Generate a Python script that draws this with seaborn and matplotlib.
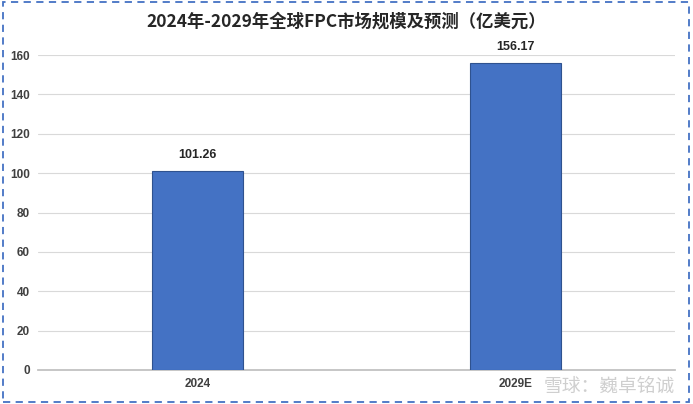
import matplotlib
matplotlib.use('Agg')
import matplotlib.pyplot as plt
import seaborn as sns
import pandas as pd
from matplotlib.patches import Rectangle

# datos
anios = ['2024', '2029E']
valores = [101.26, 156.17]
titulo = '2024年-2029年全球FPC市场规模及预测（亿美元）'
marca = '雪球：巍卓铭诚'

df = pd.DataFrame({'anio': anios, 'valor': valores})

sns.set_theme(style="white")
plt.rcParams['font.family'] = ['Liberation Sans', 'Noto Sans CJK SC', 'DejaVu Sans']

fig = plt.figure(figsize=(6.93, 4.04), dpi=100)
ax = fig.add_axes([38 / 693, 34 / 404, 637 / 693, 315 / 404])

sns.barplot(data=df, x='anio', y='valor', color='#4472C4', width=0.285,
            edgecolor='#2F528F', linewidth=0.8, saturation=1, ax=ax, zorder=3)

ax.set_xlim(-0.5, 1.5)
ax.set_ylim(0, 160)
ax.set_yticks(range(0, 161, 20))
ax.yaxis.grid(True, color='#D9D9D9', linewidth=0.8, zorder=0)
ax.set_xlabel('')
ax.set_ylabel('')
for lado in ['top', 'right', 'left']:
    ax.spines[lado].set_visible(False)
ax.spines['bottom'].set_color('#BFBFBF')
ax.tick_params(axis='both', length=0, labelsize=8.5, labelcolor='#404040', pad=6)
for lab in ax.get_xticklabels() + ax.get_yticklabels():
    lab.set_fontweight('bold')

for i, v in enumerate(valores):
    ax.text(i, v + 5, f'{v:.2f}', ha='center', va='bottom', fontsize=9,
            fontweight='bold', color='#262626')

fig.text(0.5, 1 - 22 / 404, titulo, ha='center', va='center', fontsize=12.5,
         fontweight='bold', color='#262626', family=['Noto Sans CJK SC', 'DejaVu Sans'])

# marca de agua
fig.text(1 - 18 / 693, 18 / 404, marca, ha='right', va='center', fontsize=13.5,
         color='#CFCFCF', family=['Noto Sans CJK SC', 'DejaVu Sans'], zorder=5)

# borde discontinuo
fig.patches.append(Rectangle((0.004, 0.006), 0.99, 0.988, transform=fig.transFigure,
                             fill=False, edgecolor='#4472C4', linestyle=(0, (4, 3)),
                             linewidth=1.3))

plt.savefig('out.png', dpi=100)
plt.close()
